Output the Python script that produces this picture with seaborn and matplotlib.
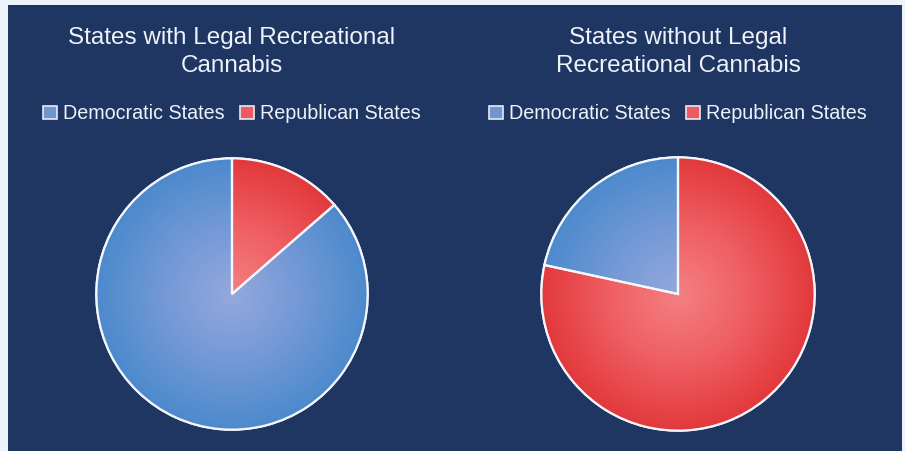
import numpy as np
import matplotlib
matplotlib.use("Agg")
import matplotlib.pyplot as plt
import seaborn as sns
from matplotlib.colors import LinearSegmentedColormap
from matplotlib.patches import Patch, Wedge

# data (share of states)
categories = ["Democratic States", "Republican States"]
legal = [86.4, 13.6]
not_legal = [21.6, 78.4]
titles = ["States with Legal Recreational\nCannabis",
          "States without Legal\nRecreational Cannabis"]

sns.set_theme(style="white")
plt.rcParams['font.family'] = ['Liberation Sans', 'DejaVu Sans']

navy = "#1f3562"
blue_grad = LinearSegmentedColormap.from_list("b", ["#95a8dc", "#7399d6", "#4c8acd"])
red_grad = LinearSegmentedColormap.from_list("r", ["#f38084", "#ef5f63", "#e2393b"])
legend_cols = ["#6f97cf", "#ee5a62"]

W, H = 905, 451
fig = plt.figure(figsize=(W / 100, H / 100), dpi=100)
fig.patch.set_facecolor("#eef3fb")
bg = fig.add_axes([8 / W, 0, (902 - 8) / W, (H - 5) / H])
bg.set_facecolor(navy)
bg.set_xticks([])
bg.set_yticks([])
for s in bg.spines.values():
    s.set_visible(False)

yy, xx = np.mgrid[-1:1:400j, -1:1:400j]
rr = np.clip(np.sqrt(xx ** 2 + yy ** 2), 0, 1)


def draw_pie(cx, cy, r, values, title, title_y, leg_y):
    ax = fig.add_axes([(cx - r) / W, (H - cy - r) / H, 2 * r / W, 2 * r / H])
    ax.set_facecolor("none")
    wedges, _ = ax.pie(values, startangle=90, counterclock=True,
                       colors=legend_cols,
                       wedgeprops=dict(edgecolor="white", linewidth=1.6))
    for w, cmap in zip(wedges, [blue_grad, red_grad]):
        im = ax.imshow(rr, cmap=cmap, vmin=0, vmax=1, extent=[-1, 1, -1, 1],
                       origin="lower", zorder=w.get_zorder() + 0.1)
        im.set_clip_path(w)
    for w in wedges:
        ax.add_patch(Wedge(w.center, w.r, w.theta1, w.theta2,
                           facecolor="none", edgecolor="#f4f6fb",
                           linewidth=1.6, zorder=5))
    ax.set_xlim(-1.01, 1.01)
    ax.set_ylim(-1.01, 1.01)
    ax.set_aspect("equal")
    ax.axis("off")
    fig.text(cx / W, 1 - title_y / H, title, ha="center", va="center",
             color="#eef2fa", fontsize=17.5, linespacing=1.3)
    handles = [Patch(facecolor=c, edgecolor="#e6ebf5", linewidth=1.2) for c in legend_cols]
    fig.legend(handles, categories, loc="center", bbox_to_anchor=(cx / W, 1 - leg_y / H),
               ncol=2, frameon=False, handlelength=0.7, handleheight=0.7,
               handletextpad=0.3, columnspacing=0.8,
               prop={"size": 14.2}, labelcolor="#eef2fa")


draw_pie(232, 294, 137, legal, titles[0], 52, 114)
draw_pie(678, 294, 138, not_legal, titles[1], 52, 114)

fig.savefig("out.png", dpi=100, facecolor=fig.get_facecolor())
